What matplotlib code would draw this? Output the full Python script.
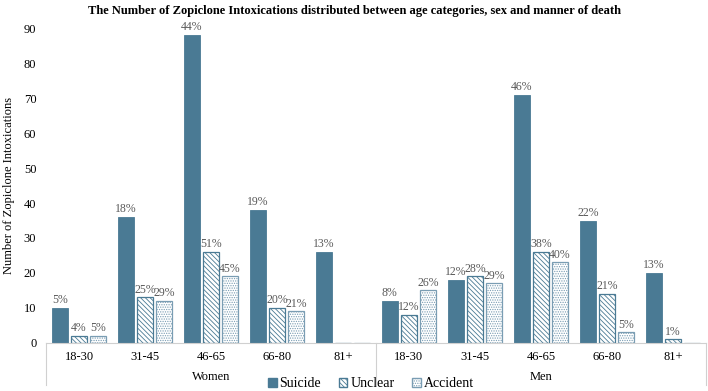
import matplotlib
matplotlib.use("Agg")
import matplotlib.pyplot as plt
from matplotlib.patches import Patch
import numpy as np

plt.rcParams['font.family'] = ['Liberation Serif', 'DejaVu Serif']
plt.rcParams['hatch.linewidth'] = 0.6

ages = ["18-30", "31-45", "46-65", "66-80", "81+"]
sexes = ["Women", "Men"]

# counts: women groups then men groups
suicide = [10, 36, 88, 38, 26, 12, 18, 71, 35, 20]
unclear = [2, 13, 26, 10, 0, 8, 19, 26, 14, 1]
accident = [2, 12, 19, 9, 0, 15, 17, 23, 3, 0]

# percentage labels (None = no label)
suicide_pct = [5, 18, 44, 19, 13, 8, 12, 46, 22, 13]
unclear_pct = [4, 25, 51, 20, None, 12, 28, 38, 21, 1]
accident_pct = [5, 29, 45, 21, None, 26, 29, 40, 5, None]

blue = "#4a7a94"
edge = "#4a7a94"
dot_edge = "#7a9db3"
label_col = "#595959"
hatch_u = "\\\\\\\\\\\\\\"
hatch_a = "......."

fig = plt.figure(figsize=(7.08, 3.91), dpi=100)
ax = fig.add_axes([0.065, 0.123, 0.932, 0.805])

x = np.arange(len(suicide))
w = 0.24
off = 0.29

b1 = ax.bar(x - off, suicide, w, color=blue, edgecolor=blue, linewidth=0.6)
b2 = ax.bar(x, unclear, w, color="white", edgecolor=edge, hatch=hatch_u, linewidth=0.9)
b3 = ax.bar(x + off, accident, w, color="white", edgecolor=dot_edge, hatch=hatch_a, linewidth=0.9)

for bars, pcts in [(b1, suicide_pct), (b2, unclear_pct), (b3, accident_pct)]:
    for bar, p in zip(bars, pcts):
        if p is None:
            continue
        ax.text(bar.get_x() + bar.get_width() / 2, bar.get_height() + 0.5, f"{p}%",
                ha="center", va="bottom", fontsize=8.5, color=label_col)

ax.set_xlim(-0.5, len(suicide) - 0.5)
ax.set_ylim(0, 90)
ax.set_yticks(range(0, 91, 10))
ax.tick_params(axis="y", length=0, labelsize=9, pad=7)
ax.set_xticks([])
for s in ["top", "right", "left"]:
    ax.spines[s].set_visible(False)
ax.spines["bottom"].set_color("#d0d0d0")

ax.set_ylabel("Number of Zopiclone Intoxications", fontsize=9, labelpad=6)

# category axis labels
trans = ax.get_xaxis_transform()
for i in x:
    ax.text(i, -0.044, ages[i % 5], transform=trans, ha="center", va="center", fontsize=9)
for j, s in enumerate(sexes):
    ax.text(j * 5 + 2, -0.108, s, transform=trans, ha="center", va="center", fontsize=9)
for xv in [-0.5, 4.5, 9.5]:
    ax.plot([xv, xv], [0, -0.135], transform=trans, color="#d0d0d0", lw=0.8, clip_on=False)

fig.text(0.5, 0.972, "The Number of Zopiclone Intoxications distributed between age categories, sex and manner of death",
         ha="center", va="center", fontsize=9, fontweight="bold")

handles = [Patch(facecolor=blue, edgecolor=blue),
           Patch(facecolor="white", edgecolor=edge, hatch=hatch_u),
           Patch(facecolor="white", edgecolor=dot_edge, hatch=hatch_a)]
fig.legend(handles, ["Suicide", "Unclear", "Accident"], loc="center", bbox_to_anchor=(0.524, 0.018),
           ncol=3, frameon=False, fontsize=10, handlelength=0.6, handleheight=0.6,
           handletextpad=0.2, columnspacing=1.3, borderpad=0)

fig.savefig("out.png", dpi=100)
